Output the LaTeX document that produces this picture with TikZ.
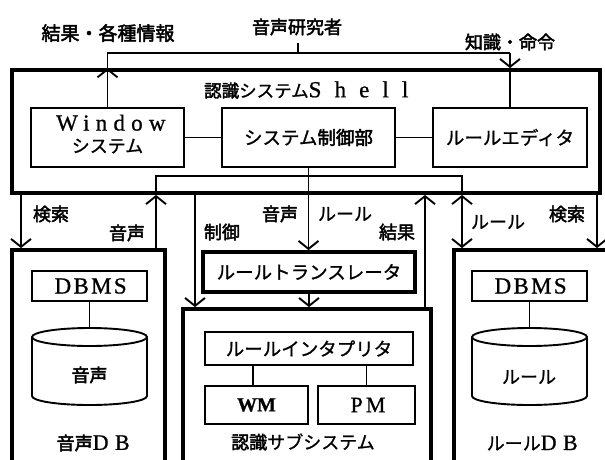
\documentclass[tikz,border=0pt]{standalone}
\usepackage{fontspec}
\setmainfont{Liberation Serif}
\newfontfamily\lat{Liberation Serif}[FakeBold=0.8]
\newfontfamily\jp{Noto Sans CJK JP}[FakeBold=1]
\newfontfamily\jpb{Noto Sans CJK JP}[FakeBold=2.5]
\usetikzlibrary{arrows.meta}
\newcommand\fsz[1]{\fontsize{#1}{#1}\selectfont}
\newcommand\ls[1]{\addfontfeatures{LetterSpace=#1}}
\newcommand\winfont{\fontsize{20}{22}\selectfont\lineskiplimit -50pt\relax}
\begin{document}
\begin{tikzpicture}[x=1pt,y=-1pt,
  thinbox/.style={draw, line width=1.9pt, inner sep=0pt},
  thickbox/.style={draw, line width=3.8pt, inner sep=0pt},
  lbl/.style={inner sep=0pt, font=\jpb\fsz{18}},
  conn/.style={line width=1.9pt},
  arr/.style={conn, -{Straight Barb[length=8pt,width=20pt]}},
  darr/.style={conn, {Straight Barb[length=8pt,width=20pt]}-{Straight Barb[length=8pt,width=20pt]}},
]
\path[use as bounding box] (0,0) rectangle (605,459);
\clip (0,0) rectangle (605,459);

% ---- top labels
\node[lbl, font=\jpb\fsz{19}] (kek) at (108,33) {結果・各種情報};
\node[lbl] (ons) at (297,27) {音声研究者};
\node[lbl] (chi) at (510,42) {知識・命令};

% ---- shell
\node[thickbox, minimum width=588pt, minimum height=123pt] (shell) at (306,131.5) {};
\node[inner sep=0pt, anchor=west] (title) at (204,90) {{\jpb\fsz{17.5}認識}{\jp\fsz{17.5}システム}{\lat\fsz{23}\ls{57}Shell}};

\node[thinbox, minimum width=153pt, minimum height=59pt] (win) at (107.5,137.5) {};
\node[inner sep=0pt, align=center, font=\winfont] (wint) at (107.5,134)
  {{\lat\fsz{23}\ls{27}\hspace*{0.5pt}Window\kern-6.2pt}\\{\jp\fsz{18}システム}};
\node[thinbox, minimum width=173pt, minimum height=59pt, font=\jp\fsz{18.5}] (ctl) at (308.5,137.5) {システム{\jpb 制御部}};
\node[thinbox, minimum width=154pt, minimum height=59pt, font=\jp\fsz{18.5}] (ed) at (510,137.5) {ルールエディタ};

\draw[conn] (win.east) -- (ctl.west);
\draw[conn] (ctl.east) -- (ed.west);

% ---- researcher connector
\coordinate (tk) at (298,43);
\coordinate (tl) at (107.5,53);
\coordinate (tr) at (510,53);
\draw[arr] (win.north) -- (win.north |- shell.north);
\draw[conn] (win.north |- shell.north) -- (tl) -- (tr);
\draw[arr] (tr) -- (ed.north |- shell.north);
\draw[conn] (ed.north |- shell.north) -- (ed.north);
\draw[conn] (tk) -- (tk |- tl);

% ---- bus
\coordinate (bl) at (156,176);
\coordinate (br) at (462,176);
\draw[conn] (bl |- shell.south) -- (bl) -- (br) -- (br |- shell.south);

% ---- lower boxes
\node[thickbox, minimum width=212pt, minimum height=40pt, font=\jp\fsz{18.5}] (trn) at (309,272) {ルールトランスレータ};
\node[thickbox, minimum width=248pt, minimum height=175pt] (sub) at (307,396.5) {};
\node[thickbox, minimum width=153pt, minimum height=234pt] (dbl) at (88.5,367) {};
\node[thickbox, minimum width=168pt, minimum height=234pt] (dbr) at (538,367) {};

\draw[arr] (ctl.south) -- (ctl.south |- trn.north);
\draw[arr] (trn.south) -- (trn.south |- sub.north);

\coordinate (xc) at (195,0);
\coordinate (xk) at (425,0);
\coordinate (xl) at (21,0);
\coordinate (xr) at (597,0);
\draw[arr] (xc |- shell.south) -- (xc |- sub.north);
\draw[arr] (xk |- sub.north) -- (xk |- shell.south);
\draw[arr] (bl |- dbl.north) -- (bl |- shell.south);
\draw[arr] (xl |- shell.south) -- (xl |- dbl.north);
\draw[darr] (br |- shell.south) -- (br |- dbr.north);
\draw[arr] (xr |- shell.south) -- (xr |- dbr.north);

% ---- connector labels
\node[lbl] (l1) at (51,214) {検索};
\node[lbl] (l2) at (127,233) {音声};
\node[lbl] (l3) at (222,232) {制御};
\node[lbl] (l4) at (280,214) {音声};
\node[lbl, font=\jp\fsz{18}] (l5) at (345,214) {ルール};
\node[lbl] (l6) at (397,232) {結果};
\node[lbl, font=\jp\fsz{18}] (l7) at (498,222) {ルール};
\node[lbl] (l8) at (567,214) {検索};

% ---- left DB
\node[thinbox, minimum width=115pt, minimum height=30pt] (dbmsl) at (89.5,286) {\lat\fsz{23}\ls{10}DBMS\kern-2.3pt};
\draw[conn] (32,337) -- (32,396) arc[start angle=180, end angle=360, x radius=57.5pt, y radius=9pt] -- (147,337);
\draw[conn] (89.5,337) ellipse[x radius=57.5pt, y radius=9pt];
\coordinate (cyll) at (89.5,328);
\draw[conn] (dbmsl.south) -- (cyll);
\node[lbl] (cl) at (89.5,375) {音声};
\node[lbl] (dbln) at (90,443) {音声{\lat\fsz{22}\ls{29}DB\kern-6.4pt}};

% ---- right DB
\node[thinbox, minimum width=115pt, minimum height=30pt] (dbmsr) at (529.5,286) {\lat\fsz{23}\ls{10}DBMS\kern-2.3pt};
\draw[conn] (472,337) -- (472,396) arc[start angle=180, end angle=360, x radius=57.5pt, y radius=9pt] -- (587,337);
\draw[conn] (529.5,337) ellipse[x radius=57.5pt, y radius=9pt];
\coordinate (cylr) at (529.5,328);
\draw[conn] (dbmsr.south) -- (cylr);
\node[lbl, font=\jp\fsz{18}] (cr) at (529,377) {ルール};
\node[lbl, font=\jp\fsz{18}] (dbrn) at (529,443) {ルール{\lat\fsz{22}\ls{29}DB\kern-6.4pt}};

% ---- subsystem
\node[thinbox, minimum width=208pt, minimum height=33pt, font=\jp\fsz{18.5}] (itp) at (309,348.5) {ルールインタプリタ};
\node[thinbox, minimum width=103pt, minimum height=38pt] (wm) at (256.5,405) {\lat\bfseries\fsz{20}WM};
\node[thinbox, minimum width=97pt, minimum height=38pt] (pm) at (366.5,405) {\lat\fsz{22}\ls{14}PM\kern-3pt};
\coordinate (xw) at (253,0);
\draw[conn] (xw |- itp.south) -- (xw |- wm.north);
\draw[conn] (pm.north |- itp.south) -- (pm.north);
\node[inner sep=0pt] (subn) at (303,442) {{\jpb\fsz{18}認識}{\jp\fsz{18}サブシステム}};
\end{tikzpicture}
\end{document}
